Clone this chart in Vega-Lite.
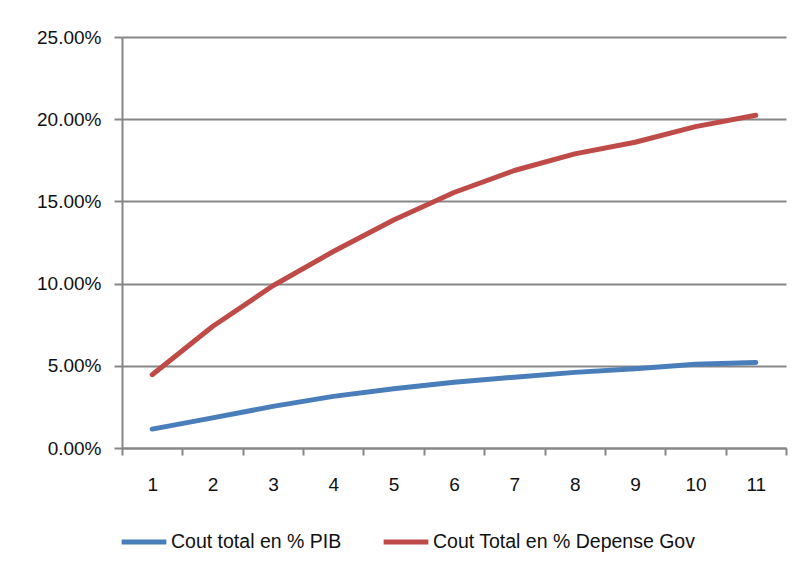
{
  "$schema": "https://vega.github.io/schema/vega-lite/v6.json",
  "autosize": "none",
  "width": 664,
  "height": 411,
  "padding": {"left": 122, "top": 37, "right": 13, "bottom": 117},
  "background": "#ffffff",
  "config": {
    "view": {"stroke": null},
    "font": "Liberation Sans",
    "axis": {
      "labelFont": "Liberation Sans",
      "labelFontSize": 19,
      "labelColor": "#111111",
      "domainColor": "#878787",
      "domainWidth": 2,
      "tickColor": "#878787",
      "tickWidth": 2,
      "gridColor": "#878787",
      "gridWidth": 2,
      "gridOpacity": 1,
      "labelFlush": false,
      "labelOverlap": false,
      "labelBound": false,
      "title": null
    }
  },
  "data": {
    "values": [
      {"periode": 1, "serie": "Cout total en % PIB", "valeur": 0.0115},
      {"periode": 2, "serie": "Cout total en % PIB", "valeur": 0.0183},
      {"periode": 3, "serie": "Cout total en % PIB", "valeur": 0.0253},
      {"periode": 4, "serie": "Cout total en % PIB", "valeur": 0.0314},
      {"periode": 5, "serie": "Cout total en % PIB", "valeur": 0.0360},
      {"periode": 6, "serie": "Cout total en % PIB", "valeur": 0.0400},
      {"periode": 7, "serie": "Cout total en % PIB", "valeur": 0.0431},
      {"periode": 8, "serie": "Cout total en % PIB", "valeur": 0.0460},
      {"periode": 9, "serie": "Cout total en % PIB", "valeur": 0.0482},
      {"periode": 10, "serie": "Cout total en % PIB", "valeur": 0.0510},
      {"periode": 11, "serie": "Cout total en % PIB", "valeur": 0.0520},
      {"periode": 1, "serie": "Cout Total en % Depense Gov", "valeur": 0.0446},
      {"periode": 2, "serie": "Cout Total en % Depense Gov", "valeur": 0.0739},
      {"periode": 3, "serie": "Cout Total en % Depense Gov", "valeur": 0.0987},
      {"periode": 4, "serie": "Cout Total en % Depense Gov", "valeur": 0.1195},
      {"periode": 5, "serie": "Cout Total en % Depense Gov", "valeur": 0.1387},
      {"periode": 6, "serie": "Cout Total en % Depense Gov", "valeur": 0.1554},
      {"periode": 7, "serie": "Cout Total en % Depense Gov", "valeur": 0.1688},
      {"periode": 8, "serie": "Cout Total en % Depense Gov", "valeur": 0.1789},
      {"periode": 9, "serie": "Cout Total en % Depense Gov", "valeur": 0.1860},
      {"periode": 10, "serie": "Cout Total en % Depense Gov", "valeur": 0.1955},
      {"periode": 11, "serie": "Cout Total en % Depense Gov", "valeur": 0.2024}
    ]
  },
  "mark": {"type": "line", "strokeWidth": 5, "strokeCap": "round", "strokeJoin": "round"},
  "encoding": {
    "x": {
      "field": "periode",
      "type": "quantitative",
      "scale": {"domain": [0.5, 11.5], "nice": false, "zero": false},
      "axis": {
        "values": [0.5, 1.5, 2.5, 3.5, 4.5, 5.5, 6.5, 7.5, 8.5, 9.5, 10.5, 11.5],
        "labelExpr": "datum.value < 1 ? '' : format(datum.value - 0.5, 'd')",
        "labelOffset": -30.18,
        "grid": false,
        "tickSize": 7,
        "labelPadding": 20
      }
    },
    "y": {
      "field": "valeur",
      "type": "quantitative",
      "scale": {"domain": [0, 0.25], "nice": false},
      "axis": {
        "values": [0, 0.05, 0.1, 0.15, 0.2, 0.25],
        "format": ".2%",
        "grid": true,
        "tickSize": 8,
        "labelPadding": 13
      }
    },
    "color": {
      "field": "serie",
      "type": "nominal",
      "sort": ["Cout total en % PIB", "Cout Total en % Depense Gov"],
      "scale": {
        "domain": ["Cout total en % PIB", "Cout Total en % Depense Gov"],
        "range": ["#4A7EBB", "#BE4B48"]
      },
      "legend": {
        "title": null,
        "orient": "none",
        "legendX": -3,
        "legendY": 480,
        "direction": "horizontal",
        "padding": 0,
        "symbolType": "stroke",
        "symbolSize": 2000,
        "symbolStrokeWidth": 5,
        "labelFont": "Liberation Sans",
        "labelFontSize": 19.5,
        "labelColor": "#111111",
        "labelOffset": 2,
        "labelLimit": 400,
        "columnPadding": 31
      }
    }
  }
}
